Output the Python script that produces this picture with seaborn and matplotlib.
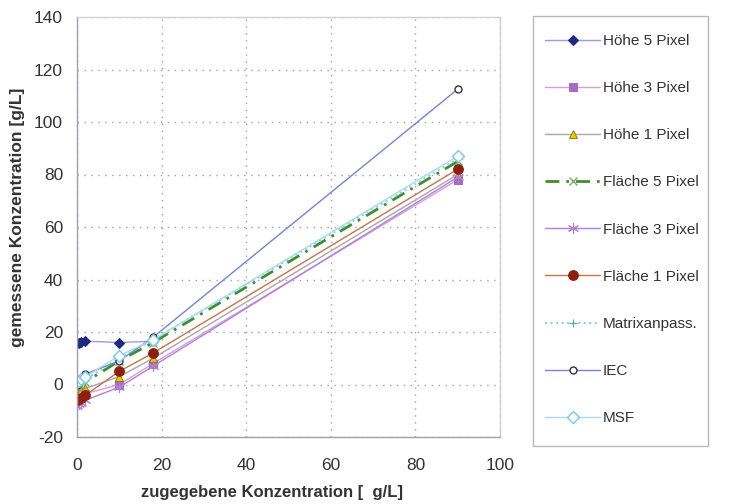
import matplotlib
matplotlib.use("Agg")
import matplotlib.pyplot as plt
import matplotlib.patches as mpatches
import seaborn as sns

sns.set_style("white")
plt.rcParams['font.family'] = ['Liberation Sans', 'DejaVu Sans']
plt.rcParams['axes.unicode_minus'] = False

x_vals = [0, 0.5, 1, 2, 10, 18, 90]

hoehe5 = [16, 16, 16.3, 16.5, 16, 16.5]
hoehe3 = [-5, -4.5, -4, -3.5, 0, 8, 78]
hoehe1 = [-3, -2.5, -2, -1.5, 3, 10, 80]
flaeche5 = [-1, -0.5, 0, 1, 9, 16, 85]
flaeche3 = [-8, -7.5, -7, -6, -1, 7, 79]
flaeche1 = [-6, -5.5, -5, -4, 5, 12, 82]
matrix = [0, 0.5, 1, 2, 10, 17, 86]
iec = [0, 1, 2, 4, 9, 18, 112.5]
msf = [1, 1.5, 2, 3, 11, 17, 87]

series = [
    ("Höhe 5 Pixel", hoehe5, dict(color="#9a9ee0", lw=1.0, ls="-", marker="D", ms=5,
                                   mfc="#1e2a80", mec="#1e2a80")),
    ("Höhe 3 Pixel", hoehe3, dict(color="#d0a0e0", lw=1.0, ls="-", marker="s", ms=6,
                                   mfc="#a46cc4", mec="#a46cc4")),
    ("Höhe 1 Pixel", hoehe1, dict(color="#a8a8a8", lw=1.0, ls="-", marker="^", ms=6,
                                   mfc="#f2c400", mec="#8a7000", mew=0.6)),
    ("Fläche 5 Pixel", flaeche5, dict(color="#3d8f2c", lw=2.0, ls=(0, (5, 2.5, 1, 2.5)), marker="x", ms=6,
                                       mfc="#3d8f2c", mec="#7aa86a", mew=1.0)),
    ("Fläche 3 Pixel", flaeche3, dict(color="#b27ed6", lw=1.0, ls="-", marker=(6, 2, 0), ms=8,
                                       mfc="#b27ed6", mec="#b27ed6", mew=0.8)),
    ("Fläche 1 Pixel", flaeche1, dict(color="#c9724c", lw=1.0, ls="-", marker="o", ms=7,
                                       mfc="#8e1e0e", mec="#8e1e0e")),
    ("Matrixanpass.", matrix, dict(color="#8ed2d6", lw=1.5, ls=":", marker="+", ms=6,
                                    mfc="#5aa8b0", mec="#5aa8b0", mew=0.8)),
    ("IEC", iec, dict(color="#7284d6", lw=1.0, ls="-", marker="o", ms=5,
                      mfc="white", mec="#333333", mew=1.0)),
    ("MSF", msf, dict(color="#a6daf4", lw=1.0, ls="-", marker="D", ms=6,
                      mfc="white", mec="#74c8f0", mew=1.0)),
]

fig = plt.figure(figsize=(7.3, 5.04), dpi=100)
ax = fig.add_axes([77 / 730, 1 - 437 / 504, 423 / 730, 420 / 504])

for label, vals, style in series:
    sns.lineplot(x=x_vals[:len(vals)], y=vals, ax=ax, label=label, **style)

ax.set_xlim(0, 100)
ax.set_ylim(-20, 140)
ax.set_xticks(range(0, 101, 20))
ax.set_yticks(range(-20, 141, 20))

ax.grid(True, color="#a0a0a0", ls=(0, (1, 4)), lw=1.0)
for side in ["top", "right"]:
    ax.spines[side].set_color("#d0d0d0")
    ax.spines[side].set_linewidth(1.0)
for side in ["left", "bottom"]:
    ax.spines[side].set_color("#a0a0b0")
    ax.spines[side].set_linewidth(1.0)
ax.tick_params(axis="both", direction="out", length=5, width=1, color="#a0a0b0",
               labelsize=12.5, labelcolor="#333333")
ax.tick_params(axis="x", pad=10)
ax.tick_params(axis="y", pad=5)

ax.set_xlabel("zugegebene Konzentration [  g/L]", fontsize=12, fontweight="bold",
              color="#333333")
ax.set_ylabel("gemessene Konzentration [g/L]", fontsize=12.5, fontweight="bold",
              color="#333333")
ax.xaxis.set_label_coords(0.461, (437 - 485) / 420)
ax.yaxis.set_label_coords((25 - 77) / 423, 0.524)

# legend box drawn separately so its size matches the reference
frame = mpatches.Rectangle((533 / 730, 1 - 446 / 504), 175 / 730, 430 / 504,
                           transform=fig.transFigure, facecolor="none",
                           edgecolor="#b8b8b8", lw=1.0, zorder=-1)
fig.patches.append(frame)

leg = ax.legend(loc="upper left", bbox_to_anchor=(545 / 730, 1 - 34 / 504),
                bbox_transform=fig.transFigure, frameon=False,
                fontsize=11, handlelength=3.6, labelspacing=2.17, borderpad=0,
                handletextpad=0.2, borderaxespad=0)
leg.set_zorder(10)
for t in leg.get_texts():
    t.set_color("#333333")

fig.savefig("out.png", dpi=100)
